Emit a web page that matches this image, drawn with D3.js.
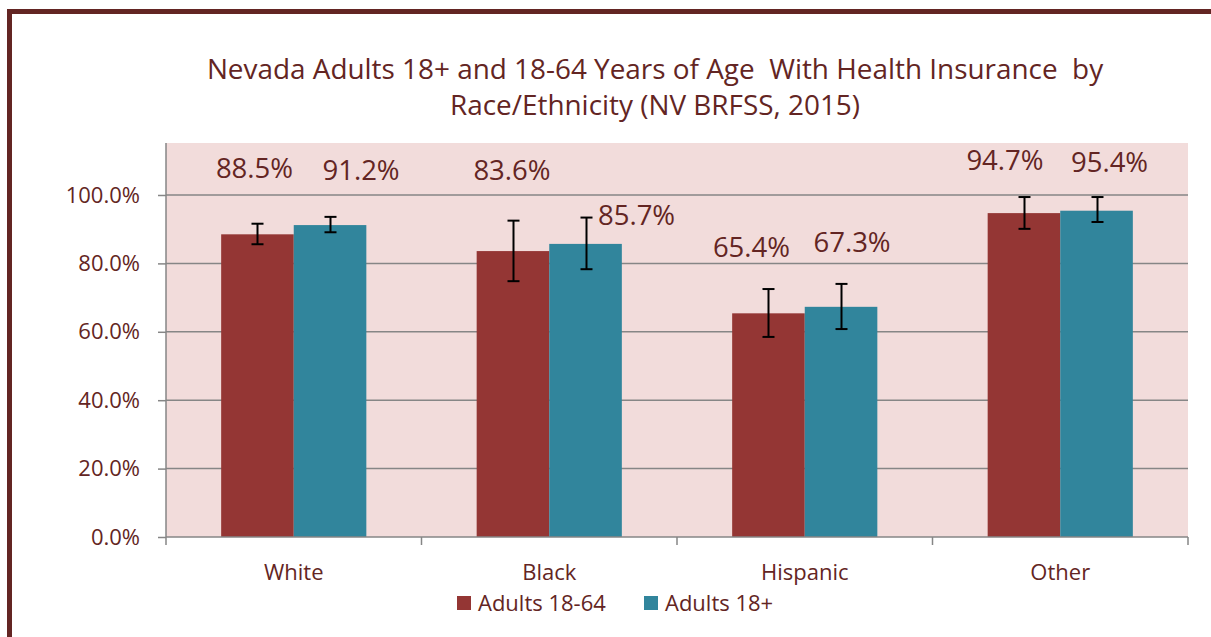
<!DOCTYPE html>
<html>
<head>
<meta charset="utf-8">
<script src="https://cdn.jsdelivr.net/npm/d3@7"></script>
<style>
  html, body { margin: 0; padding: 0; background: #fff; }
  svg { display: block; }
  text { font-family: "Open Sans", "Noto Sans", sans-serif; fill: #632523; white-space: pre; }
</style>
</head>
<body>
<svg id="chart" width="1211" height="637"></svg>
<script>
// ---------- data ----------
const categories = ["White", "Black", "Hispanic", "Other"];
const seriesNames = ["Adults 18-64", "Adults 18+"];
const adults1864 = [88.5, 83.6, 65.4, 94.7];
const adults18plus = [91.2, 85.7, 67.3, 95.4];
const adults1864Low = [85.6, 74.8, 58.5, 90.1];
const adults1864High = [91.6, 92.5, 72.5, 99.4];
const adults18plusLow = [89.1, 78.3, 60.8, 92.1];
const adults18plusHigh = [93.6, 93.4, 74.0, 99.4];
const yTicks = [0, 20, 40, 60, 80, 100];
const titleLines = ["Nevada Adults 18+ and 18-64 Years of Age  With Health Insurance  by",
                    "Race/Ethnicity (NV BRFSS, 2015)"];
// label anchor heights (in value units) where the report placed its data labels
const labelAt1864 = [107.9, 107.3, 84.8, 110.2];
const labelAt18plus = [107.3, 94.2, 86.3, 109.6];
const labelShift1864 = [-3, -1, -17, -19];    // horizontal nudges, px
const labelShift18plus = [31, 51, 11, 13];

const colors = ["#943634", "#31859C"];

const series = [
  { name: seriesNames[0], values: adults1864, low: adults1864Low, high: adults1864High, labelAt: labelAt1864, shift: labelShift1864 },
  { name: seriesNames[1], values: adults18plus, low: adults18plusLow, high: adults18plusHigh, labelAt: labelAt18plus, shift: labelShift18plus }
];

// ---------- layout ----------
const svg = d3.select("#chart");
const plot = { left: 166, right: 1188, top: 143, bottom: 537 };

// outer frame
svg.append("rect")
  .attr("x", 9.5).attr("y", 11.5).attr("width", 1400).attr("height", 800)
  .attr("fill", "none").attr("stroke", "#632523").attr("stroke-width", 5);

const x = d3.scaleBand().domain(categories).range([plot.left, plot.right]).paddingInner(0).paddingOuter(0);
const xs = d3.scaleBand().domain([0, 1]).range([0, x.bandwidth()]).paddingInner(0).paddingOuter(0.76);
const y = d3.scaleLinear().domain([0, 115.2]).range([plot.bottom, plot.top]);

// plot area
svg.append("rect")
  .attr("x", plot.left).attr("y", plot.top)
  .attr("width", plot.right - plot.left).attr("height", plot.bottom - plot.top)
  .attr("fill", "#F2DCDB");

// gridlines
svg.append("g").selectAll("line").data(yTicks.filter(d => d > 0)).join("line")
  .attr("x1", plot.left).attr("x2", plot.right)
  .attr("y1", d => y(d)).attr("y2", d => y(d))
  .attr("stroke", "#868686").attr("stroke-width", 1.5);

// title
svg.append("g").selectAll("text").data(titleLines).join("text")
  .attr("x", 655).attr("y", (d, i) => 79 + i * 36)
  .attr("text-anchor", "middle")
  .attr("xml:space", "preserve")
  .attr("font-size", 27.9)
  .text(d => d);

// bars
series.forEach((s, si) => {
  const g = svg.append("g");
  g.selectAll("rect").data(categories).join("rect")
    .attr("x", c => x(c) + xs(si))
    .attr("width", xs.bandwidth())
    .attr("y", (c, i) => y(s.values[i]))
    .attr("height", (c, i) => y(0) - y(s.values[i]))
    .attr("fill", colors[si]);
});

// error bars
series.forEach((s, si) => {
  const g = svg.append("g").attr("stroke", "#000").attr("stroke-width", 2);
  categories.forEach((c, i) => {
    const cx = Math.round(x(c) + xs(si) + xs.bandwidth() / 2) + 0.5;
    g.append("line").attr("x1", cx).attr("x2", cx).attr("y1", y(s.high[i])).attr("y2", y(s.low[i]));
    [s.high[i], s.low[i]].forEach(v => {
      g.append("line").attr("x1", cx - 6).attr("x2", cx + 6).attr("y1", y(v)).attr("y2", y(v));
    });
  });
});

// data labels
series.forEach((s, si) => {
  svg.append("g").selectAll("text").data(categories).join("text")
    .attr("x", (c, i) => x(c) + xs(si) + xs.bandwidth() / 2 + s.shift[i])
    .attr("y", (c, i) => y(s.labelAt[i]))
    .attr("dy", "0.36em")
    .attr("text-anchor", "middle")
    .attr("font-size", 27.5)
    .text((c, i) => s.values[i].toFixed(1) + "%");
});

// y axis
const yAxis = svg.append("g").attr("transform", `translate(${plot.left},0)`)
  .call(d3.axisLeft(y).tickValues(yTicks).tickSize(8).tickPadding(18).tickFormat(d => d.toFixed(1) + "%"));
yAxis.select(".domain").attr("stroke", "#868686").attr("stroke-width", 1.5)
  .attr("d", `M0,${plot.top}V${plot.bottom}`);
yAxis.selectAll(".tick line").attr("stroke", "#868686").attr("stroke-width", 1.5);
yAxis.selectAll(".tick text").attr("font-size", 22).attr("fill", "#632523")
  .style("font-family", '"Open Sans", sans-serif');

// x axis
const xAxisG = svg.append("g").attr("transform", `translate(0,${plot.bottom})`);
xAxisG.append("line").attr("x1", plot.left).attr("x2", plot.right).attr("y1", 0).attr("y2", 0)
  .attr("stroke", "#868686").attr("stroke-width", 1.5);
const boundaries = categories.map(c => x(c)).concat([x(categories[categories.length - 1]) + x.bandwidth()]);
xAxisG.selectAll("line.tk").data(boundaries).join("line").attr("class", "tk")
  .attr("x1", d => d).attr("x2", d => d).attr("y1", 0).attr("y2", 8)
  .attr("stroke", "#868686").attr("stroke-width", 1.5);
xAxisG.selectAll("text").data(categories).join("text")
  .attr("x", c => x(c) + x.bandwidth() / 2).attr("y", 35)
  .attr("dy", "0.36em")
  .attr("text-anchor", "middle").attr("font-size", 22)
  .text(c => c);

// legend
const legendItems = [{ name: seriesNames[0], x: 457 }, { name: seriesNames[1], x: 644 }];
const lg = svg.append("g");
legendItems.forEach((it, i) => {
  lg.append("rect").attr("x", it.x).attr("y", 596).attr("width", 14).attr("height", 14).attr("fill", colors[i]);
  lg.append("text").attr("x", it.x + 21).attr("y", 603).attr("dy", "0.36em")
    .attr("font-size", 22).text(it.name);
});
</script>
</body>
</html>
